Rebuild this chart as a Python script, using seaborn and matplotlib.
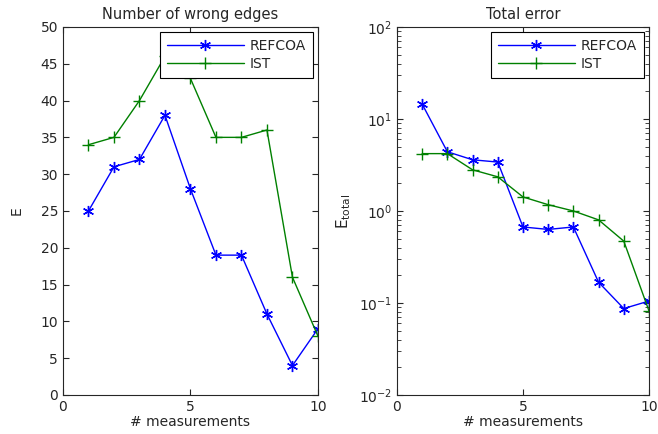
import numpy as np
import matplotlib
matplotlib.use("Agg")
import matplotlib.pyplot as plt
from matplotlib.ticker import LogLocator
import seaborn as sns

measurements = [1, 2, 3, 4, 5, 6, 7, 8, 9, 10]
wrong_refcoa = [25, 31, 32, 38, 28, 19, 19, 11, 4, 9]
wrong_ist = [34, 35, 40, 46, 43, 35, 35, 36, 16, 8]
err_refcoa = [14.5, 4.4, 3.6, 3.4, 0.67, 0.63, 0.67, 0.168, 0.087, 0.105]
err_ist = [4.2, 4.2, 2.8, 2.35, 1.42, 1.17, 1.0, 0.8, 0.47, 0.082]

sns.set_style("ticks")
plt.rcParams.update({
    "font.family": ["DejaVu Sans"],
    "font.size": 10,
    "xtick.direction": "in",
    "ytick.direction": "in",
    "axes.linewidth": 0.8,
    "xtick.top": True,
    "ytick.right": True,
    "xtick.major.size": 4,
    "ytick.major.size": 4,
})

series_style = [
    ("REFCOA", (0, 0, 1), (6, 2, 0)),
    ("IST", (0, 0.5, 0), "+"),
]

fig = plt.figure(figsize=(6.58, 4.34), dpi=100)
ax1 = fig.add_axes([0.0957, 0.0899, 0.3875, 0.848])
ax2 = fig.add_axes([0.6033, 0.0899, 0.3830, 0.848])

for ax, ys in ((ax1, (wrong_refcoa, wrong_ist)), (ax2, (err_refcoa, err_ist))):
    for (name, color, marker), y in zip(series_style, ys):
        sns.lineplot(x=measurements, y=y, color=color, marker=marker,
                     markersize=8, markeredgewidth=1.0, markeredgecolor=color,
                     linewidth=1.0, label=name, ax=ax)
    ax.set_xlim(0, 10)
    ax.set_xticks([0, 5, 10])
    ax.set_xlabel("# measurements", fontsize=10, labelpad=1)
    leg = ax.legend(loc="upper right", fancybox=False, framealpha=1,
                    edgecolor="black", fontsize=10, borderaxespad=0.35,
                    borderpad=0.5, handletextpad=0.4, labelspacing=0.3,
                    handlelength=5.6)
    leg.get_frame().set_linewidth(0.8)
    leg.set_zorder(10)
    ax.tick_params(which="both", labelsize=10)

ax1.set_ylim(0, 50)
ax1.set_yticks(np.arange(0, 51, 5))
ax1.set_ylabel("E", fontsize=10, labelpad=12)
ax1.set_title("Number of wrong edges", fontsize=10.5)

ax2.set_yscale("log")
ax2.set_ylim(1e-2, 1e2)
ax2.yaxis.set_minor_locator(LogLocator(base=10, subs=np.arange(2, 10), numticks=20))
ax2.tick_params(axis="y", which="minor", length=3, width=0.6,
                left=True, right=True, direction="in")
ax2.set_ylabel(r"$\mathregular{E_{total}}$", fontsize=11)
ax2.set_title("Total error", fontsize=10.5)

fig.savefig("out.png", dpi=100)
